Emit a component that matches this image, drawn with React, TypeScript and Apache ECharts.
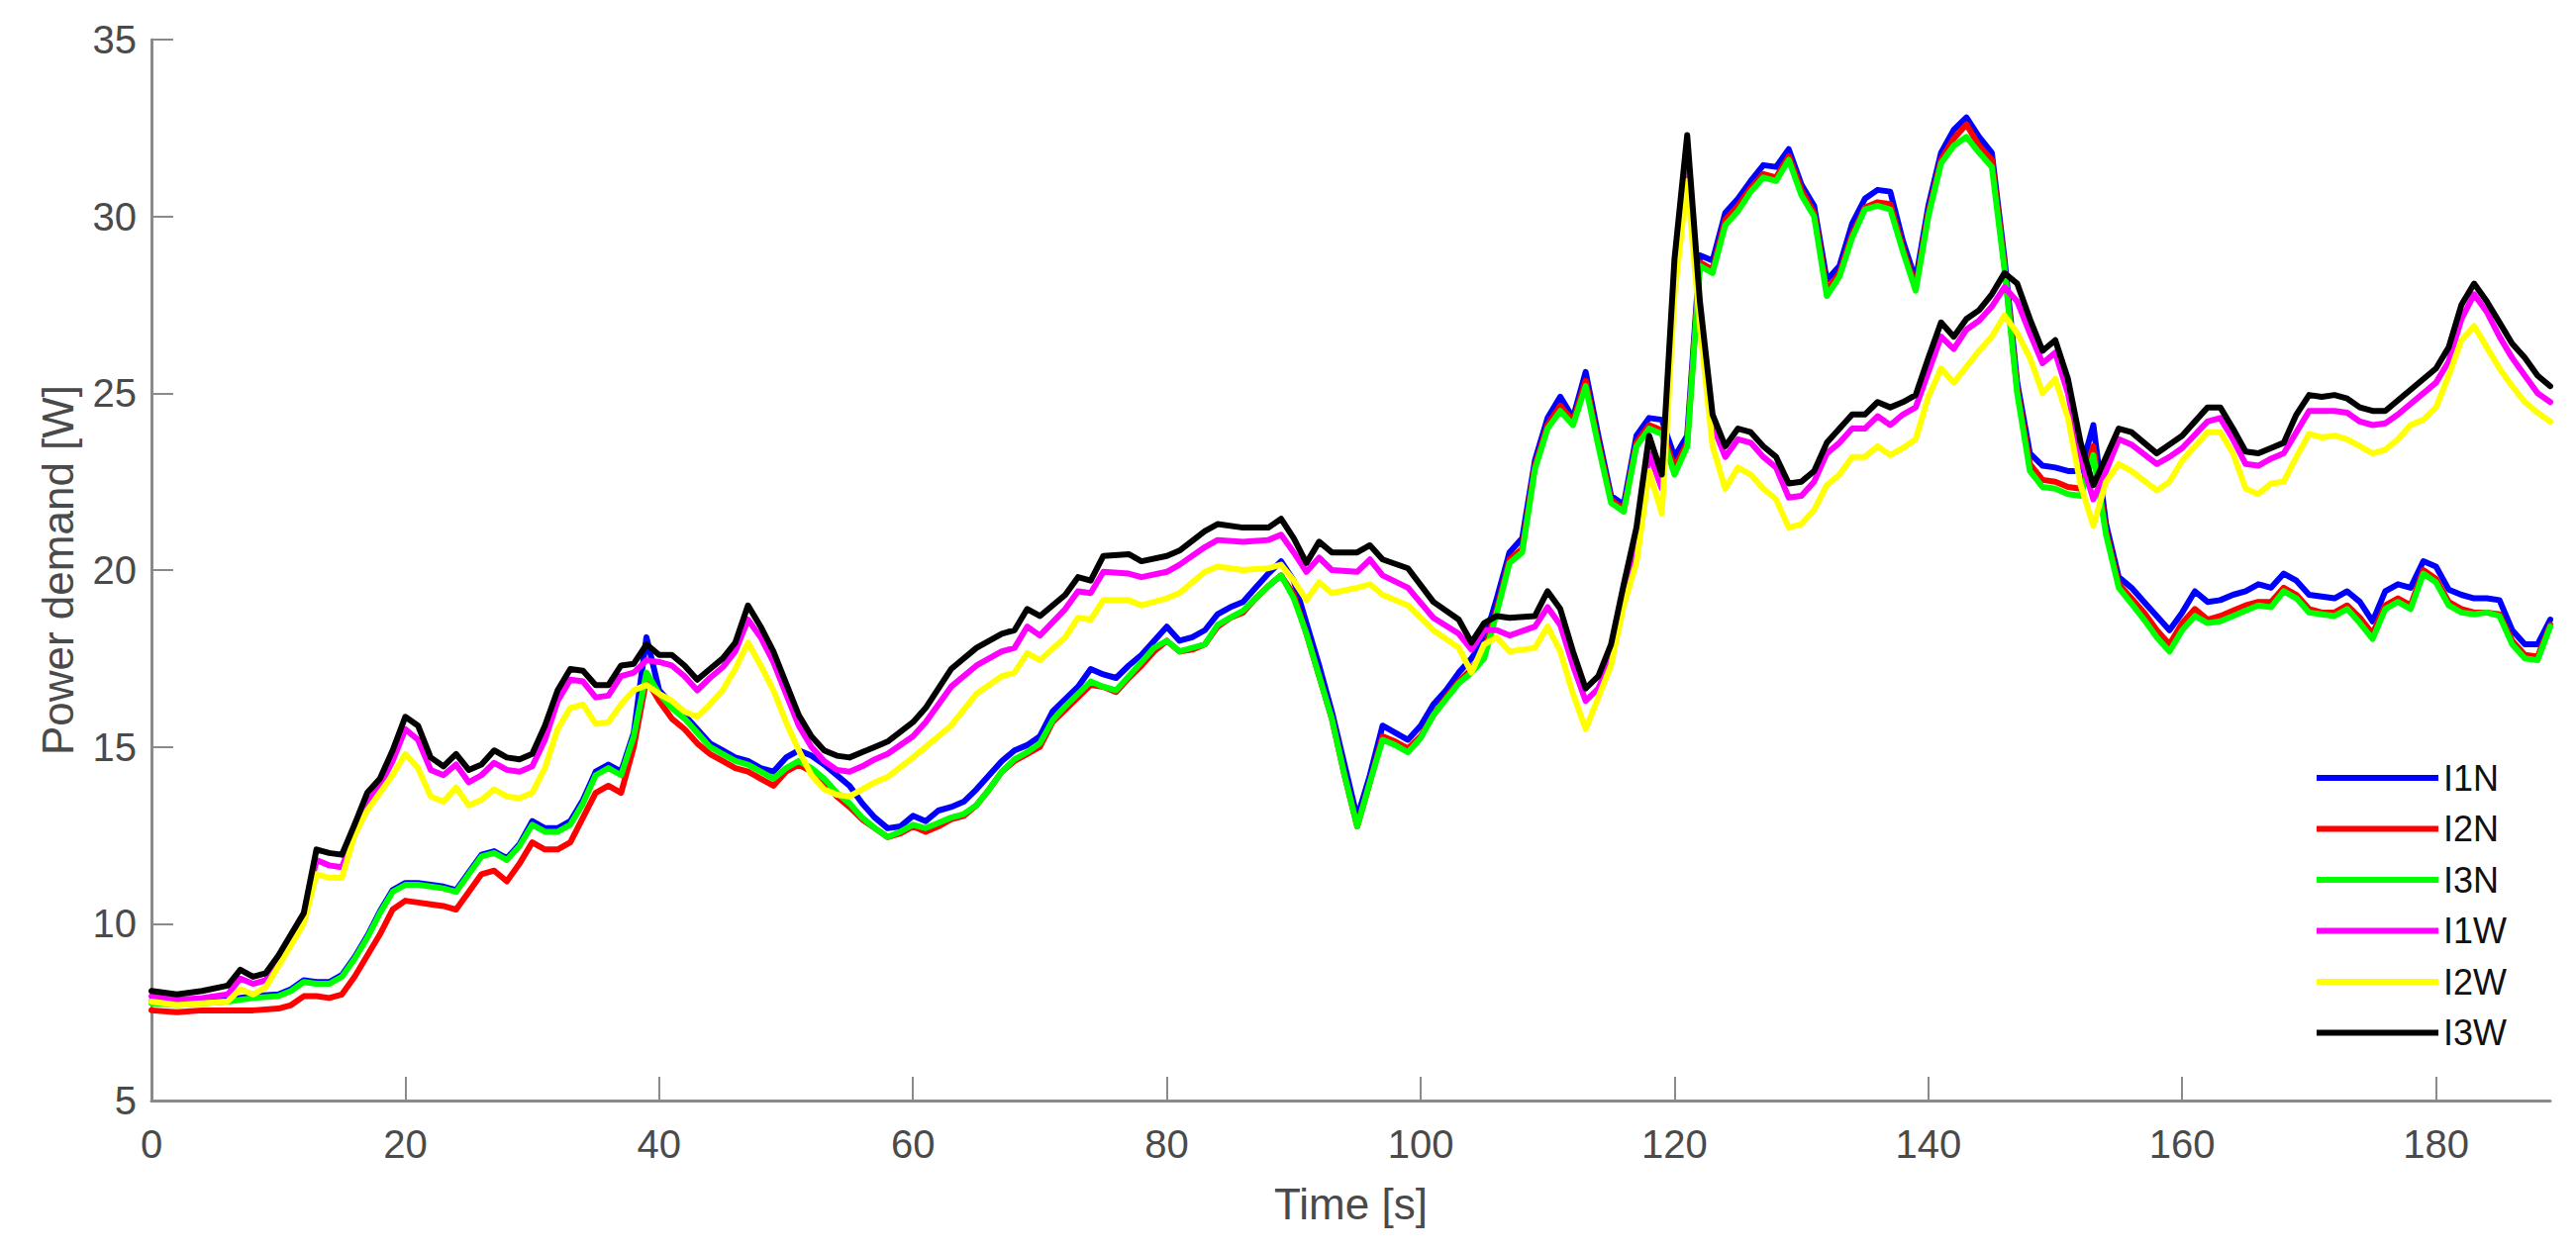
import * as echarts from "echarts";
import React, { useEffect, useRef } from "react";

// time stamps [s] of the samples read for the "N" curves
const timeN = [
  0, 2, 4, 6, 8, 10, 11, 12, 13, 14,
  15, 16, 17, 18, 19, 20, 21, 22, 23, 24,
  25, 26, 27, 28, 29, 30, 31, 32, 33, 34,
  35, 36, 37, 38, 39, 40, 41, 42, 43, 44,
  45, 46, 47, 48, 49, 50, 51, 52, 53, 54,
  55, 56, 57, 58, 59, 60, 61, 62, 63, 64,
  65, 66, 67, 68, 69, 70, 71, 72, 73, 74,
  75, 76, 77, 78, 79, 80, 81, 82, 83, 84,
  85, 86, 87, 88, 89, 90, 91, 92, 93, 94,
  95, 96, 97, 98, 99, 100, 101, 102, 103, 104,
  105, 106, 107, 108, 109, 110, 111, 112, 113, 114,
  115, 116, 117, 118, 119, 120, 121, 122, 123, 124,
  125, 126, 127, 128, 129, 130, 131, 132, 133, 134,
  135, 136, 137, 138, 139, 140, 141, 142, 143, 144,
  145, 146, 147, 148, 149, 150, 151, 152, 153, 154,
  155, 156, 157, 158, 159, 160, 161, 162, 163, 164,
  165, 166, 167, 168, 169, 170, 171, 172, 173, 174,
  175, 176, 177, 178, 179, 180, 181, 182, 183, 184,
  185, 186, 187, 188, 189,
];

const i1N = [
  7.8, 7.75, 7.8, 7.85, 7.95, 8.0, 8.15, 8.4, 8.35, 8.35,
  8.55, 9.05, 9.65, 10.35, 10.95, 11.15, 11.15, 11.1, 11.05, 10.95,
  11.45, 11.95, 12.05, 11.85, 12.25, 12.9, 12.7, 12.7, 12.9, 13.5,
  14.3, 14.5, 14.3, 15.4, 18.1, 16.6, 16.2, 15.9, 15.5, 15.1,
  14.9, 14.7, 14.6, 14.4, 14.3, 14.7, 14.9, 14.75, 14.5, 14.2,
  13.9, 13.4, 13.0, 12.7, 12.75, 13.05, 12.9, 13.2, 13.3, 13.45,
  13.8, 14.2, 14.6, 14.9, 15.05, 15.3, 16.0, 16.35, 16.7, 17.2,
  17.05, 16.95, 17.3, 17.6, 18.0, 18.4, 18.0, 18.1, 18.3, 18.75,
  18.95, 19.1, 19.5, 19.9, 20.25, 19.7, 18.5, 17.3, 16.0, 14.5,
  13.0, 14.2, 15.6, 15.4, 15.2, 15.6, 16.2, 16.6, 17.1, 17.5,
  18.0, 19.2, 20.5, 20.9, 23.1, 24.3, 24.9, 24.3, 25.6, 23.8,
  22.1, 21.85, 23.8, 24.3, 24.25, 23.2, 23.8, 28.9, 28.75, 30.1,
  30.5, 31.0, 31.45, 31.4, 31.9, 30.9, 30.3, 28.2, 28.6, 29.8,
  30.5, 30.75, 30.7, 29.3, 28.2, 30.3, 31.8, 32.45, 32.8, 32.25,
  31.8, 28.8, 25.3, 23.3, 22.95, 22.9, 22.8, 22.8, 24.1, 21.3,
  19.8, 19.5, 19.1, 18.7, 18.3, 18.8, 19.4, 19.1, 19.15, 19.3,
  19.4, 19.6, 19.5, 19.9, 19.7, 19.3, 19.25, 19.2, 19.4, 19.1,
  18.55, 19.4, 19.6, 19.5, 20.25, 20.1, 19.45, 19.3, 19.2, 19.2,
  19.15, 18.3, 17.9, 17.9, 18.6,
];

const i2N = [
  7.55, 7.5, 7.55, 7.55, 7.55, 7.6, 7.7, 7.95, 7.95, 7.9,
  8.0, 8.5, 9.1, 9.7, 10.4, 10.65, 10.6, 10.55, 10.5, 10.4,
  10.9, 11.4, 11.5, 11.2, 11.7, 12.3, 12.1, 12.1, 12.3, 13.0,
  13.7, 13.9, 13.7, 15.0, 16.9, 16.3, 15.8, 15.5, 15.1, 14.8,
  14.6, 14.4, 14.3, 14.1, 13.9, 14.3, 14.5, 14.3, 14.0, 13.6,
  13.3, 12.95, 12.7, 12.45, 12.55, 12.75, 12.6, 12.75, 12.95, 13.05,
  13.35, 13.8, 14.3, 14.6, 14.8, 15.0, 15.7, 16.05, 16.4, 16.75,
  16.7, 16.55, 16.95, 17.3, 17.7, 18.0, 17.7, 17.75, 17.9, 18.4,
  18.65, 18.8, 19.2, 19.55, 19.85, 19.3, 18.2, 17.0, 15.8, 14.2,
  12.75, 14.0, 15.3, 15.15, 14.95, 15.3, 15.9, 16.4, 16.85, 17.2,
  17.7, 18.9, 20.3, 20.6, 22.95, 24.1, 24.65, 24.2, 25.35, 23.6,
  22.0, 21.7, 23.6, 24.1, 23.95, 22.9, 23.6, 28.7, 28.5, 29.9,
  30.3, 30.8, 31.2, 31.1, 31.7, 30.75, 30.1, 27.9, 28.4, 29.5,
  30.25, 30.4, 30.35, 29.1, 28.0, 30.1, 31.6, 32.2, 32.6, 32.0,
  31.6, 28.6, 25.1, 23.0, 22.55, 22.5, 22.35, 22.3, 23.5, 21.1,
  19.6, 19.2, 18.8, 18.3, 17.9, 18.5, 18.9, 18.6, 18.7, 18.85,
  19.0, 19.1, 19.1, 19.5, 19.3, 18.9, 18.8, 18.8, 19.0, 18.65,
  18.2, 19.0, 19.2, 19.0, 20.0, 19.75, 19.1, 18.9, 18.8, 18.8,
  18.75, 18.0, 17.6, 17.55, 18.45,
];

const i3N = [
  7.75, 7.7, 7.75, 7.8, 7.9, 7.95, 8.1, 8.35, 8.3, 8.3,
  8.5, 9.0, 9.6, 10.3, 10.9, 11.1, 11.1, 11.05, 11.0, 10.9,
  11.4, 11.9, 12.0, 11.8, 12.2, 12.8, 12.6, 12.6, 12.8, 13.4,
  14.2, 14.4, 14.2, 15.3, 17.1, 16.5, 16.1, 15.8, 15.4, 15.0,
  14.8, 14.6, 14.5, 14.3, 14.1, 14.4, 14.6, 14.4, 14.1, 13.7,
  13.4, 13.0, 12.7, 12.45, 12.6, 12.8, 12.7, 12.85, 13.0, 13.1,
  13.35, 13.8, 14.3, 14.65, 14.85, 15.1, 15.75, 16.15, 16.5, 16.85,
  16.7, 16.6, 17.0, 17.4, 17.8, 18.0, 17.7, 17.8, 17.9, 18.45,
  18.65, 18.85, 19.2, 19.55, 19.85, 19.2, 18.2, 17.0, 15.8, 14.2,
  12.75, 14.0, 15.2, 15.05, 14.85, 15.25, 15.9, 16.35, 16.8, 17.1,
  17.5, 18.8, 20.2, 20.5, 22.85, 24.0, 24.5, 24.1, 25.2, 23.5,
  21.9, 21.65, 23.5, 24.0, 23.85, 22.7, 23.5, 28.6, 28.4, 29.75,
  30.15, 30.7, 31.1, 31.0, 31.6, 30.6, 30.0, 27.75, 28.3, 29.4,
  30.2, 30.3, 30.2, 29.0, 27.9, 30.0, 31.5, 32.0, 32.25, 31.8,
  31.4, 28.5, 25.0, 22.8, 22.35, 22.3, 22.15, 22.1, 23.25, 21.0,
  19.5, 19.05, 18.6, 18.1, 17.7, 18.3, 18.7, 18.5, 18.55, 18.7,
  18.85, 19.0, 18.95, 19.4, 19.2, 18.8, 18.75, 18.7, 18.9, 18.5,
  18.05, 18.9, 19.1, 18.9, 19.9, 19.65, 19.0, 18.8, 18.75, 18.8,
  18.7, 17.9, 17.5, 17.45, 18.4,
];

// time stamps [s] of the samples read for the "W" curves
const timeW = [
  0, 2, 4, 6, 7, 8, 9, 10, 11, 12,
  13, 14, 15, 16, 17, 18, 19, 20, 21, 22,
  23, 24, 25, 26, 27, 28, 29, 30, 31, 32,
  33, 34, 35, 36, 37, 38, 39, 40, 41, 42,
  43, 44, 45, 46, 47, 48, 49, 50, 51, 52,
  53, 54, 55, 56, 57, 58, 60, 61, 63, 65,
  67, 68, 69, 70, 72, 73, 74, 75, 77, 78,
  80, 81, 83, 84, 86, 88, 89, 90, 91, 92,
  93, 95, 96, 97, 99, 101, 103, 104, 105, 106,
  107, 109, 110, 111, 112, 113, 114, 115, 116, 117,
  118, 119, 120, 121, 122, 123, 124, 125, 126, 127,
  128, 129, 130, 131, 132, 133, 134, 135, 136, 137,
  138, 139, 140, 141, 142, 143, 144, 145, 146, 147,
  148, 149, 150, 151, 152, 153, 154, 155, 156, 158,
  159, 160, 162, 163, 164, 165, 166, 167, 168, 169,
  170, 171, 172, 173, 174, 175, 176, 177, 178, 179,
  180, 181, 182, 183, 184, 185, 186, 187, 188, 189,
];

const i1W = [
  7.95, 7.85, 7.9, 8.0, 8.45, 8.3, 8.4, 9.0, 9.6, 10.2,
  11.8, 11.65, 11.6, 12.5, 13.4, 13.9, 14.6, 15.5, 15.2, 14.35,
  14.2, 14.5, 14.0, 14.2, 14.55, 14.35, 14.3, 14.45, 15.2, 16.3,
  16.9, 16.85, 16.4, 16.45, 17.0, 17.1, 17.45, 17.4, 17.3, 17.0,
  16.6, 16.95, 17.25, 17.7, 18.6, 18.1, 17.4, 16.5, 15.6, 15.0,
  14.6, 14.35, 14.3, 14.45, 14.65, 14.8, 15.3, 15.7, 16.7, 17.3,
  17.7, 17.8, 18.4, 18.15, 18.9, 19.4, 19.35, 19.95, 19.9, 19.8,
  19.95, 20.15, 20.65, 20.85, 20.8, 20.85, 21.0, 20.5, 19.95, 20.35,
  20.0, 19.95, 20.3, 19.85, 19.5, 18.65, 18.2, 17.75, 18.3, 18.3,
  18.15, 18.4, 18.95, 18.45, 17.3, 16.3, 16.65, 17.5, 19.2, 20.8,
  23.3, 22.3, 28.3, 31.7, 27.2, 24.1, 23.2, 23.7, 23.6, 23.2,
  22.9, 22.05, 22.1, 22.5, 23.3, 23.6, 24.0, 24.0, 24.35, 24.1,
  24.4, 24.6, 25.6, 26.6, 26.25, 26.8, 27.05, 27.45, 28.0, 27.6,
  26.7, 25.85, 26.15, 25.0, 23.2, 22.0, 22.8, 23.7, 23.55, 23.0,
  23.2, 23.45, 24.2, 24.3, 23.7, 23.0, 22.95, 23.15, 23.3, 23.9,
  24.5, 24.5, 24.5, 24.45, 24.2, 24.1, 24.15, 24.4, 24.7, 25.0,
  25.3, 25.9, 27.1, 27.8, 27.3, 26.6, 26.0, 25.5, 25.0, 24.75,
];

const i2W = [
  7.8, 7.7, 7.75, 7.8, 8.15, 8.0, 8.2, 8.8, 9.4, 10.0,
  11.4, 11.3, 11.3, 12.5, 13.2, 13.7, 14.2, 14.8, 14.4, 13.6,
  13.45, 13.85, 13.35, 13.5, 13.8, 13.6, 13.55, 13.7, 14.4, 15.5,
  16.1, 16.2, 15.65, 15.7, 16.2, 16.6, 16.75, 16.5, 16.3, 16.0,
  15.85, 16.2, 16.6, 17.2, 17.95, 17.3, 16.6, 15.7, 14.9, 14.2,
  13.8, 13.65, 13.6, 13.8, 14.0, 14.15, 14.7, 15.0, 15.6, 16.5,
  17.0, 17.1, 17.65, 17.45, 18.1, 18.65, 18.6, 19.15, 19.15, 19.0,
  19.2, 19.35, 19.95, 20.1, 20.0, 20.05, 20.15, 19.7, 19.15, 19.65,
  19.35, 19.5, 19.6, 19.3, 19.0, 18.3, 17.8, 17.1, 17.9, 18.1,
  17.7, 17.8, 18.4, 17.7, 16.5, 15.5, 16.4, 17.3, 19.0, 20.2,
  22.8, 21.6, 27.8, 31.0, 26.9, 23.5, 22.3, 22.9, 22.7, 22.3,
  22.0, 21.2, 21.3, 21.7, 22.4, 22.7, 23.2, 23.2, 23.5, 23.25,
  23.45, 23.7, 24.9, 25.7, 25.3, 25.75, 26.2, 26.6, 27.2, 26.7,
  26.0, 25.0, 25.4, 24.3, 22.4, 21.25, 22.5, 23.0, 22.8, 22.25,
  22.5, 23.1, 23.9, 23.9, 23.3, 22.3, 22.15, 22.45, 22.5, 23.2,
  23.85, 23.75, 23.8, 23.7, 23.5, 23.3, 23.4, 23.7, 24.1, 24.25,
  24.6, 25.5, 26.5, 26.9, 26.3, 25.7, 25.2, 24.75, 24.45, 24.2,
];

const i3W = [
  8.1, 8.0, 8.1, 8.25, 8.7, 8.5, 8.6, 9.1, 9.7, 10.3,
  12.1, 12.0, 11.95, 12.8, 13.7, 14.1, 14.9, 15.85, 15.6, 14.7,
  14.45, 14.8, 14.35, 14.5, 14.9, 14.7, 14.65, 14.8, 15.6, 16.6,
  17.2, 17.15, 16.75, 16.75, 17.3, 17.35, 17.9, 17.6, 17.6, 17.3,
  16.9, 17.2, 17.5, 17.95, 19.0, 18.4, 17.7, 16.8, 15.9, 15.3,
  14.9, 14.75, 14.7, 14.85, 15.0, 15.15, 15.7, 16.1, 17.2, 17.8,
  18.2, 18.3, 18.9, 18.7, 19.3, 19.8, 19.7, 20.4, 20.45, 20.25,
  20.4, 20.55, 21.1, 21.3, 21.2, 21.2, 21.45, 20.9, 20.2, 20.8,
  20.5, 20.5, 20.7, 20.3, 20.05, 19.1, 18.6, 17.95, 18.5, 18.7,
  18.65, 18.7, 19.4, 18.9, 17.7, 16.65, 17.0, 17.9, 19.6, 21.2,
  23.8, 22.7, 28.8, 32.3, 27.6, 24.4, 23.5, 24.0, 23.9, 23.5,
  23.2, 22.45, 22.5, 22.8, 23.6, 24.0, 24.4, 24.4, 24.75, 24.6,
  24.75, 24.95, 26.0, 27.0, 26.6, 27.1, 27.35, 27.8, 28.4, 28.1,
  27.1, 26.2, 26.5, 25.4, 23.6, 22.4, 23.2, 24.0, 23.9, 23.3,
  23.55, 23.8, 24.6, 24.6, 24.0, 23.35, 23.3, 23.45, 23.6, 24.4,
  24.95, 24.9, 24.95, 24.85, 24.6, 24.5, 24.5, 24.8, 25.1, 25.4,
  25.7, 26.3, 27.5, 28.1, 27.6, 27.0, 26.4, 26.0, 25.5, 25.2,
];

const xTicks = [0, 20, 40, 60, 80, 100, 120, 140, 160, 180];

const FONT = "Liberation Sans";
const AXIS_COLOR = "#8a8a8a";
const TEXT_COLOR = "#4a4a4a";

const curves = [
  { name: "I1N", time: timeN, values: i1N, color: "#0000ff" },
  { name: "I2N", time: timeN, values: i2N, color: "#ff0000" },
  { name: "I3N", time: timeN, values: i3N, color: "#00ff00" },
  { name: "I1W", time: timeW, values: i1W, color: "#ff00ff" },
  { name: "I2W", time: timeW, values: i2W, color: "#ffff00" },
  { name: "I3W", time: timeW, values: i3W, color: "#000000" },
];

const PowerDemandChart: React.FC = () => {
  const chartRef = useRef<HTMLDivElement | null>(null);

  useEffect(() => {
    const chart = echarts.init(chartRef.current, null, { renderer: "svg" });

    chart.setOption({
      animation: false,
      backgroundColor: "#ffffff",
      textStyle: { fontFamily: FONT },
      grid: {
        left: 153,
        right: 26,
        top: 40,
        bottom: 149,
        containLabel: false,
        outerBoundsMode: "none",
      },
      legend: {
        orient: "vertical",
        left: 2340,
        top: 766,
        padding: 0,
        icon: "rect",
        itemWidth: 123,
        itemHeight: 6,
        itemGap: 11.5,
        selectedMode: false,
        textStyle: {
          fontFamily: FONT,
          fontSize: 36,
          lineHeight: 40,
          color: "#111111",
        },
        data: curves.map((c) => c.name),
      },
      xAxis: {
        type: "value",
        min: 0,
        max: 189,
        interval: 20,
        name: "Time [s]",
        nameLocation: "middle",
        nameGap: 82,
        nameTextStyle: { fontFamily: FONT, fontSize: 44, color: TEXT_COLOR },
        axisLine: {
          show: true,
          onZero: false,
          lineStyle: { color: AXIS_COLOR, width: 3 },
        },
        axisTick: {
          show: true,
          inside: true,
          length: 24,
          customValues: xTicks,
          lineStyle: { color: AXIS_COLOR, width: 2 },
        },
        axisLabel: {
          fontFamily: FONT,
          fontSize: 40,
          color: TEXT_COLOR,
          margin: 24,
          customValues: xTicks,
        },
        splitLine: { show: false },
      },
      yAxis: {
        type: "value",
        min: 5,
        max: 35,
        interval: 5,
        name: "Power demand [W]",
        nameLocation: "middle",
        nameGap: 73,
        nameTextStyle: { fontFamily: FONT, fontSize: 44, color: TEXT_COLOR },
        axisLine: {
          show: true,
          lineStyle: { color: AXIS_COLOR, width: 3 },
        },
        axisTick: {
          show: true,
          inside: true,
          length: 22,
          lineStyle: { color: AXIS_COLOR, width: 2 },
        },
        axisLabel: {
          fontFamily: FONT,
          fontSize: 40,
          color: TEXT_COLOR,
          margin: 15,
        },
        splitLine: { show: false },
      },
      series: curves.map((c) => ({
        name: c.name,
        type: "line",
        symbol: "none",
        showSymbol: false,
        silent: true,
        itemStyle: { color: c.color },
        lineStyle: { color: c.color, width: 6, cap: "round", join: "round" },
        emphasis: { disabled: true },
        data: c.time.map((t, i) => [t, c.values[i]]),
      })),
    });

    return () => {
      chart.dispose();
    };
  }, []);

  return (
    <div
      ref={chartRef}
      style={{
        position: "fixed",
        left: 0,
        top: 0,
        width: "2602px",
        height: "1261px",
        background: "#ffffff",
      }}
    ></div>
  );
};

export default function App() {
  return <PowerDemandChart />;
}
